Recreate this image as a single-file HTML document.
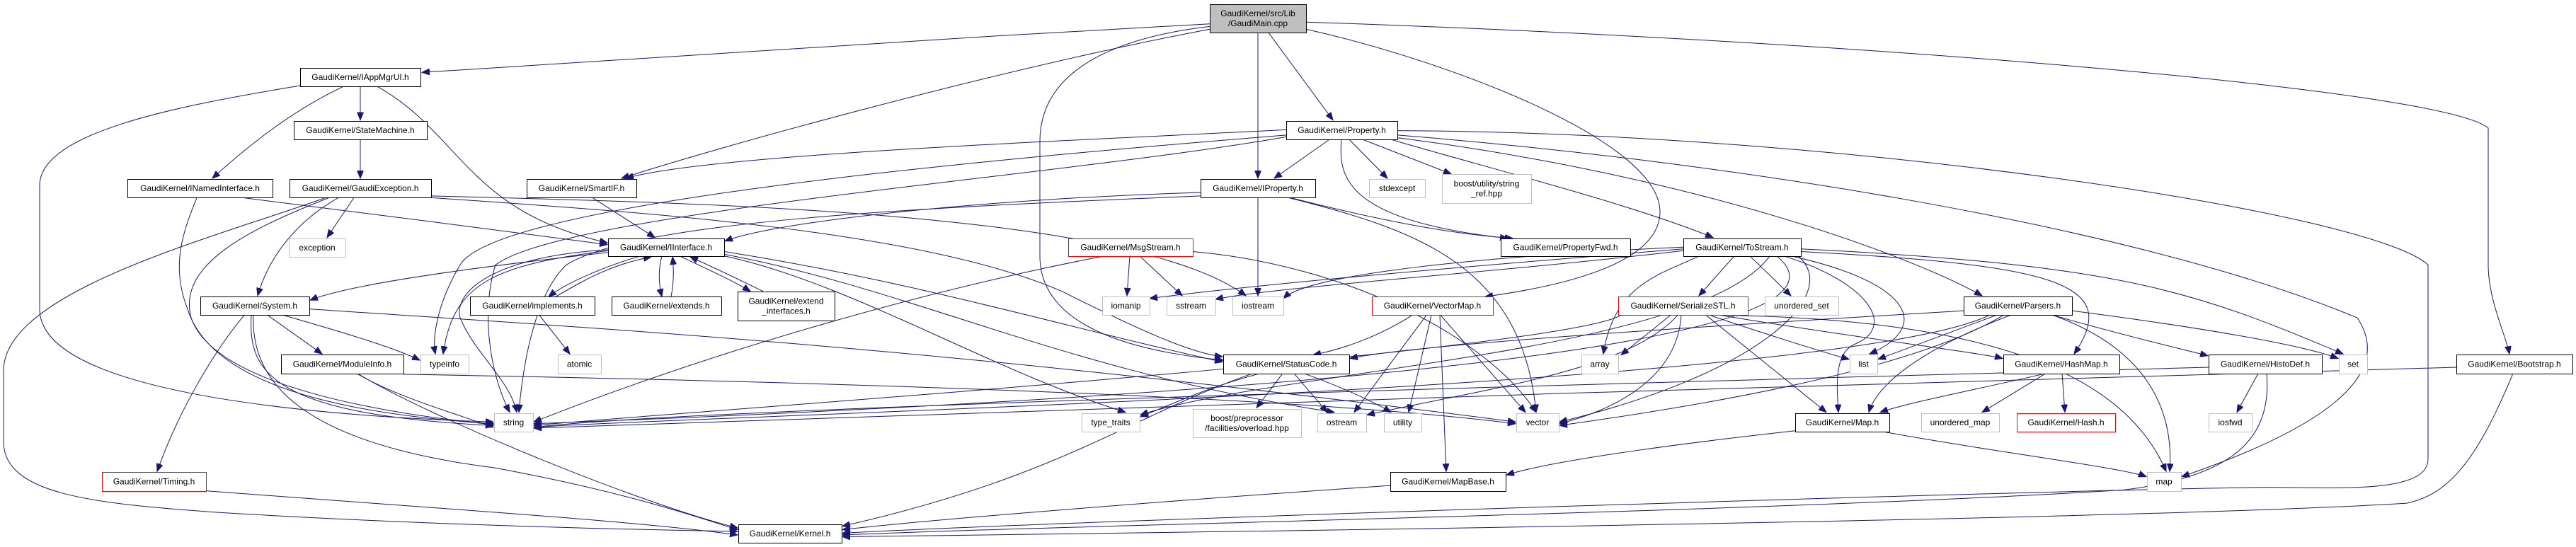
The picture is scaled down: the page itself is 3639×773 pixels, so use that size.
<!DOCTYPE html>
<html><head><meta charset="utf-8">
<style>
html,body{margin:0;padding:0;background:#fff;}
svg{display:block;}
text{font-family:"Liberation Sans",Helvetica,Arial,sans-serif;font-size:12px;fill:#000;}
</style></head>
<body>
<svg id="g" width="3639" height="773" viewBox="0 0 3639 773" xmlns="http://www.w3.org/2000/svg">
<defs>
<marker id="a" markerUnits="userSpaceOnUse" markerWidth="12" markerHeight="9" refX="11" refY="4.5" orient="auto">
<path d="M0,0 L11,4.5 L0,9 z" fill="#191970" stroke="#191970"/>
</marker>
</defs>
<g id="edges" fill="none" stroke="#191970" stroke-width="1"></g>
<g id="nodes"></g>
</svg>
<script>
var K=1.2475;
var E=[
"M1709,27 C1300,45 800,70 596,82",
"M1709,33 C1400,80 1000,170 878,202",
"M1709,30 C1550,45 1469,90 1469,160 L1469,290 C1469,370 1600,398 1728,408",
"M1777,37 L1777,202",
"M1792,37 L1883,136",
"M1845,33 C2050,70 2345,160 2345,240 C2345,300 2200,325 2098,336",
"M1845,25 C2600,45 3450,100 3515,145 L3515,300 C3515,340 3540,380 3545,401",
"M509,98 L509,136",
"M485,98 C400,130 330,180 300,202",
"M424,97 C250,120 56,150 56,210 L56,350 C56,440 400,470 697,478",
"M533,98 C650,150 660,240 858,275",
"M509,158 L509,202",
"M343,224 C500,240 700,260 858,277",
"M278,224 C260,260 240,300 265,350 C300,440 500,470 697,480",
"M500,224 L462,269",
"M478,224 C420,250 380,290 364,335",
"M465,224 C350,260 250,300 270,360 C300,430 500,465 697,481",
"M460,224 C300,270 5,330 5,420 L5,500 C5,560 130,570 300,580 C600,595 900,600 1042,602",
"M609,224 C900,240 1300,260 1500,330 C1600,370 1680,400 1727,404",
"M609,222 C1000,230 1600,240 1760,335",
"M437,350 C800,370 1300,390 2141,478",
"M400,357 C500,380 560,395 593,408",
"M378,357 L455,401",
"M345,357 C300,400 250,470 222,534",
"M355,357 C350,420 380,470 697,482",
"M358,357 C355,420 400,500 700,530 C900,560 1000,590 1042,600",
"M504,423 C560,450 650,470 697,484",
"M505,423 C600,470 900,570 1042,598",
"M570,424 C1000,430 1800,445 2141,480",
"M291,556 C600,575 900,590 1042,606",
"M837,224 L925,269",
"M859,284 C700,300 640,320 626,401",
"M859,283 C700,290 640,330 650,360 C670,400 720,430 730,467",
"M1023,285 C1300,320 1500,370 1727,410",
"M1023,290 C1200,320 1400,420 1590,467",
"M1023,288 C1300,330 1500,420 1885,467",
"M859,286 C700,300 500,320 438,340",
"M905,290 C860,300 800,320 775,336",
"M785,336 C820,320 860,300 920,291",
"M935,290 C930,305 930,320 935,336",
"M948,336 C952,320 952,305 950,291",
"M960,290 C1000,305 1040,320 1060,330",
"M1078,330 C1040,315 1000,300 975,291",
"M762,357 L805,401",
"M1696,218 C1400,225 1100,250 1024,273",
"M1777,224 L1777,335",
"M1696,222 C1300,235 900,250 800,300 C760,330 740,400 733,467",
"M1820,224 C2000,260 2150,300 2170,467",
"M1823,224 C1950,250 2050,265 2137,270",
"M1817,147 C1500,160 1000,175 884,202",
"M1878,158 L1800,202",
"M1906,158 L1960,202",
"M1925,158 L2050,197",
"M1895,158 C1890,200 1900,250 2130,270",
"M1965,158 C2100,190 2300,230 2420,269",
"M1974,156 C2400,200 2700,290 2800,335",
"M1817,153 C1400,180 700,230 650,300 C620,340 610,380 615,401",
"M1817,155 C1500,200 800,240 700,300 C680,350 690,420 720,467",
"M1974,148 C2600,150 3350,240 3430,300 L3430,520 C3430,560 3300,552 3200,552 C2900,555 1500,590 1190,604",
"M1974,153 C2400,180 3000,250 3330,360 C3380,420 3300,480 3082,540",
"M1596,290 L1592,335",
"M1610,290 L1670,335",
"M1560,290 C1300,330 1000,400 754,478",
"M1685,285 C1900,300 2100,380 2170,467",
"M1780,423 C1700,440 1650,460 1611,472",
"M1812,423 L1775,462",
"M1828,423 L1875,467",
"M1842,423 C1900,440 1940,455 1965,467",
"M1770,423 C1600,470 1500,540 1190,596",
"M2378,282 C2100,300 1800,320 1624,338",
"M2378,284 C2100,310 1800,325 1717,339",
"M2378,280 C2100,290 1850,310 1813,338",
"M2450,290 L2400,335",
"M2472,290 L2530,335",
"M2530,290 C2700,320 2730,370 2641,401",
"M2520,290 C2640,320 2680,370 2620,390 C2590,400 2595,440 2597,467",
"M2544,285 C2900,300 3000,320 2930,401",
"M2544,282 C3000,300 3100,330 3310,401",
"M2400,290 C2350,310 2280,320 2265,401",
"M2540,290 C2600,330 2500,420 2203,478",
"M2510,290 C2600,350 2400,430 754,480",
"M2500,290 C2400,400 1800,420 1611,470",
"M1995,357 C1950,380 1900,395 1855,402",
"M2015,357 L1913,467",
"M2022,357 L1990,467",
"M2034,357 L2043,534",
"M2035,357 L2155,467",
"M2360,357 L2290,402",
"M2370,357 C2300,420 2100,440 1931,470",
"M2375,357 C2370,420 2300,460 2203,480",
"M2410,357 L2580,467",
"M2415,357 C2500,380 2580,400 2612,407",
"M2430,357 C2600,380 2800,400 2829,406",
"M2290,357 C2200,400 900,470 754,482",
"M2420,357 C2800,360 3000,420 3060,534",
"M2774,352 C2400,370 2000,390 1907,406",
"M2820,357 L2653,407",
"M2840,357 C2700,400 2650,440 2640,467",
"M2830,357 C2700,420 2400,460 2203,482",
"M2900,357 C3000,380 3080,395 3119,403",
"M2927,352 C3100,370 3250,390 3303,406",
"M2900,357 C3050,400 3070,480 3065,534",
"M2810,357 C2600,440 1000,470 754,484",
"M2890,423 C2800,440 2700,455 2656,467",
"M2890,423 L2800,467",
"M2913,423 L2917,467",
"M2660,489 C2800,510 3000,530 3032,540",
"M2536,488 C2400,500 2200,520 2128,538",
"M1964,550 C1600,570 1300,590 1190,600",
"M3190,423 L3160,467",
"M3120,416 C2500,430 1000,460 754,484",
"M3202,423 C3210,500 3150,540 3000,555 C2500,580 1500,595 1190,606",
"M3470,416 C2800,430 1200,470 754,485",
"M3550,423 C3500,520 3460,560 3400,570 C3000,590 1500,605 1190,608"
];
var N=[
[1709,5,1845,37,["GaudiKernel/src/Lib","/GaudiMain.cpp"],"m"],
[424,77,594,98,["GaudiKernel/IAppMgrUI.h"],"n"],
[415,137,603,158,["GaudiKernel/StateMachine.h"],"n"],
[180,203,385,224,["GaudiKernel/INamedInterface.h"],"n"],
[409,203,609,224,["GaudiKernel/GaudiException.h"],"n"],
[408,270,488,291,["exception"],"g"],
[283,336,437,357,["GaudiKernel/System.h"],"n"],
[397,402,570,423,["GaudiKernel/ModuleInfo.h"],"n"],
[144,535,291,556,["GaudiKernel/Timing.h"],"r"],
[744,203,899,224,["GaudiKernel/SmartIF.h"],"n"],
[859,270,1023,290,["GaudiKernel/IInterface.h"],"n"],
[664,336,840,357,["GaudiKernel/implements.h"],"n"],
[864,336,1019,357,["GaudiKernel/extends.h"],"n"],
[1042,330,1179,363,["GaudiKernel/extend","_interfaces.h"],"n"],
[594,402,662,423,["typeinfo"],"g"],
[788,402,849,423,["atomic"],"g"],
[698,468,753,489,["string"],"g"],
[1043,594,1189,615,["GaudiKernel/Kernel.h"],"n"],
[1696,203,1858,224,["GaudiKernel/IProperty.h"],"n"],
[1817,137,1974,158,["GaudiKernel/Property.h"],"n"],
[1509,270,1685,290,["GaudiKernel/MsgStream.h"],"r"],
[1557,336,1624,357,["iomanip"],"g"],
[1648,336,1717,357,["sstream"],"g"],
[1741,336,1813,357,["iostream"],"g"],
[1728,402,1906,423,["GaudiKernel/StatusCode.h"],"n"],
[1528,468,1610,489,["type_traits"],"g"],
[1685,463,1838,495,["boost/preprocessor","/facilities/overload.hpp"],"g"],
[1934,203,2013,224,["stdexcept"],"g"],
[2037,197,2163,230,["boost/utility/string","_ref.hpp"],"g"],
[2120,270,2303,290,["GaudiKernel/PropertyFwd.h"],"n"],
[2378,270,2544,290,["GaudiKernel/ToStream.h"],"n"],
[1938,336,2109,357,["GaudiKernel/VectorMap.h"],"r"],
[2286,336,2469,357,["GaudiKernel/SerializeSTL.h"],"r"],
[2234,402,2286,423,["array"],"g"],
[1861,468,1930,489,["ostream"],"g"],
[1955,468,2008,489,["utility"],"g"],
[2142,468,2202,489,["vector"],"g"],
[1964,535,2127,556,["GaudiKernel/MapBase.h"],"n"],
[2493,336,2597,357,["unordered_set"],"g"],
[2774,336,2927,357,["GaudiKernel/Parsers.h"],"n"],
[2613,402,2652,423,["list"],"g"],
[2830,402,2994,423,["GaudiKernel/HashMap.h"],"n"],
[2536,468,2669,489,["GaudiKernel/Map.h"],"n"],
[2714,468,2824,489,["unordered_map"],"g"],
[2849,468,2988,489,["GaudiKernel/Hash.h"],"r"],
[3120,402,3280,423,["GaudiKernel/HistoDef.h"],"n"],
[3304,402,3344,423,["set"],"g"],
[3470,402,3634,423,["GaudiKernel/Bootstrap.h"],"n"],
[3120,468,3181,489,["iosfwd"],"g"],
[3033,535,3081,556,["map"],"g"]
];
var ns="http://www.w3.org/2000/svg";
var eg=document.getElementById("edges");
E.forEach(function(d){
 d=d.replace(/(-?[\d.]+),(-?[\d.]+)/g,function(m,x,y){return x+","+(parseFloat(y)*K).toFixed(1);});
 var p=document.createElementNS(ns,"path");p.setAttribute("d",d);p.setAttribute("marker-end","url(#a)");eg.appendChild(p);});
var ng=document.getElementById("nodes");
N.forEach(function(n){
 var y1=Math.round(n[1]*K), y2=Math.round(n[3]*K);
 var r=document.createElementNS(ns,"rect");
 r.setAttribute("x",n[0]+0.5);r.setAttribute("y",y1+0.5);
 r.setAttribute("width",n[2]-n[0]);r.setAttribute("height",y2-y1);
 var t=n[5];
 r.setAttribute("fill",t=="m"?"#bfbfbf":"#fff");
 r.setAttribute("stroke",t=="g"?"#bfbfbf":(t=="r"?"#ff0000":"#000"));
 r.setAttribute("stroke-width","1");
 ng.appendChild(r);
 var cx=(n[0]+n[2])/2, cy=(y1+y2)/2;
 var L=n[4];
 L.forEach(function(s,i){
  var tx=document.createElementNS(ns,"text");
  tx.setAttribute("x",cx);
  tx.setAttribute("y",cy+4+(i-(L.length-1)/2)*14);
  tx.setAttribute("text-anchor","middle");
  tx.textContent=s;ng.appendChild(tx);
 });
});
</script>
</body></html>
